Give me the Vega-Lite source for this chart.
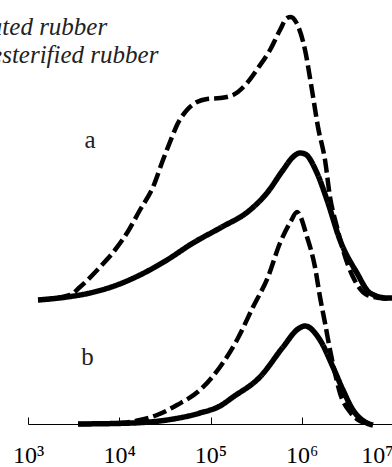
{
  "$schema": "https://vega.github.io/schema/vega-lite/v6.json",
  "autosize": {"type": "none"},
  "padding": {"left": 28, "top": 0, "right": 0, "bottom": 43},
  "width": 365,
  "height": 424,
  "background": "white",
  "config": {"view": {"stroke": null}},
  "datasets": {
    "curves": [
      {"series": "a-untreated", "style": "dashed", "logM": 3.110, "w": 124},
      {"series": "a-untreated", "style": "dashed", "logM": 3.460, "w": 129},
      {"series": "a-untreated", "style": "dashed", "logM": 3.570, "w": 137},
      {"series": "a-untreated", "style": "dashed", "logM": 3.789, "w": 157},
      {"series": "a-untreated", "style": "dashed", "logM": 3.953, "w": 174},
      {"series": "a-untreated", "style": "dashed", "logM": 4.085, "w": 191},
      {"series": "a-untreated", "style": "dashed", "logM": 4.227, "w": 214},
      {"series": "a-untreated", "style": "dashed", "logM": 4.370, "w": 237},
      {"series": "a-untreated", "style": "dashed", "logM": 4.479, "w": 264},
      {"series": "a-untreated", "style": "dashed", "logM": 4.578, "w": 287},
      {"series": "a-untreated", "style": "dashed", "logM": 4.633, "w": 299},
      {"series": "a-untreated", "style": "dashed", "logM": 4.742, "w": 314},
      {"series": "a-untreated", "style": "dashed", "logM": 4.852, "w": 322},
      {"series": "a-untreated", "style": "dashed", "logM": 4.962, "w": 325},
      {"series": "a-untreated", "style": "dashed", "logM": 5.104, "w": 326},
      {"series": "a-untreated", "style": "dashed", "logM": 5.247, "w": 329},
      {"series": "a-untreated", "style": "dashed", "logM": 5.400, "w": 341},
      {"series": "a-untreated", "style": "dashed", "logM": 5.521, "w": 356},
      {"series": "a-untreated", "style": "dashed", "logM": 5.652, "w": 374},
      {"series": "a-untreated", "style": "dashed", "logM": 5.762, "w": 394},
      {"series": "a-untreated", "style": "dashed", "logM": 5.838, "w": 406},
      {"series": "a-untreated", "style": "dashed", "logM": 5.882, "w": 407},
      {"series": "a-untreated", "style": "dashed", "logM": 5.937, "w": 402},
      {"series": "a-untreated", "style": "dashed", "logM": 6.036, "w": 374},
      {"series": "a-untreated", "style": "dashed", "logM": 6.112, "w": 334},
      {"series": "a-untreated", "style": "dashed", "logM": 6.178, "w": 297},
      {"series": "a-untreated", "style": "dashed", "logM": 6.255, "w": 264},
      {"series": "a-untreated", "style": "dashed", "logM": 6.310, "w": 227},
      {"series": "a-untreated", "style": "dashed", "logM": 6.386, "w": 197},
      {"series": "a-untreated", "style": "dashed", "logM": 6.452, "w": 174},
      {"series": "a-untreated", "style": "dashed", "logM": 6.562, "w": 147},
      {"series": "a-untreated", "style": "dashed", "logM": 6.715, "w": 129},
      {"series": "a-untreated", "style": "dashed", "logM": 6.858, "w": 126},
      {"series": "a-untreated", "style": "dashed", "logM": 6.989, "w": 125},

      {"series": "a-treated", "style": "solid", "logM": 3.110, "w": 124},
      {"series": "a-treated", "style": "solid", "logM": 3.427, "w": 127},
      {"series": "a-treated", "style": "solid", "logM": 3.679, "w": 131},
      {"series": "a-treated", "style": "solid", "logM": 3.975, "w": 139},
      {"series": "a-treated", "style": "solid", "logM": 4.227, "w": 149},
      {"series": "a-treated", "style": "solid", "logM": 4.523, "w": 164},
      {"series": "a-treated", "style": "solid", "logM": 4.808, "w": 181},
      {"series": "a-treated", "style": "solid", "logM": 5.104, "w": 196},
      {"series": "a-treated", "style": "solid", "logM": 5.433, "w": 214},
      {"series": "a-treated", "style": "solid", "logM": 5.619, "w": 231},
      {"series": "a-treated", "style": "solid", "logM": 5.795, "w": 254},
      {"series": "a-treated", "style": "solid", "logM": 5.904, "w": 267},
      {"series": "a-treated", "style": "solid", "logM": 5.981, "w": 271},
      {"series": "a-treated", "style": "solid", "logM": 6.036, "w": 270},
      {"series": "a-treated", "style": "solid", "logM": 6.167, "w": 251},
      {"series": "a-treated", "style": "solid", "logM": 6.277, "w": 224},
      {"series": "a-treated", "style": "solid", "logM": 6.419, "w": 184},
      {"series": "a-treated", "style": "solid", "logM": 6.605, "w": 151},
      {"series": "a-treated", "style": "solid", "logM": 6.748, "w": 131},
      {"series": "a-treated", "style": "solid", "logM": 6.934, "w": 126},
      {"series": "a-treated", "style": "solid", "logM": 6.989, "w": 126},

      {"series": "b-untreated", "style": "dashed", "logM": 3.548, "w": 0},
      {"series": "b-untreated", "style": "dashed", "logM": 4.008, "w": 1},
      {"series": "b-untreated", "style": "dashed", "logM": 4.227, "w": 4},
      {"series": "b-untreated", "style": "dashed", "logM": 4.414, "w": 9},
      {"series": "b-untreated", "style": "dashed", "logM": 4.633, "w": 19},
      {"series": "b-untreated", "style": "dashed", "logM": 4.885, "w": 34},
      {"series": "b-untreated", "style": "dashed", "logM": 5.104, "w": 57},
      {"series": "b-untreated", "style": "dashed", "logM": 5.290, "w": 84},
      {"series": "b-untreated", "style": "dashed", "logM": 5.466, "w": 117},
      {"series": "b-untreated", "style": "dashed", "logM": 5.630, "w": 147},
      {"series": "b-untreated", "style": "dashed", "logM": 5.762, "w": 181},
      {"series": "b-untreated", "style": "dashed", "logM": 5.882, "w": 203},
      {"series": "b-untreated", "style": "dashed", "logM": 5.948, "w": 212},
      {"series": "b-untreated", "style": "dashed", "logM": 6.058, "w": 187},
      {"series": "b-untreated", "style": "dashed", "logM": 6.145, "w": 157},
      {"series": "b-untreated", "style": "dashed", "logM": 6.200, "w": 127},
      {"series": "b-untreated", "style": "dashed", "logM": 6.255, "w": 101},
      {"series": "b-untreated", "style": "dashed", "logM": 6.310, "w": 74},
      {"series": "b-untreated", "style": "dashed", "logM": 6.364, "w": 51},
      {"series": "b-untreated", "style": "dashed", "logM": 6.419, "w": 31},
      {"series": "b-untreated", "style": "dashed", "logM": 6.529, "w": 12},
      {"series": "b-untreated", "style": "dashed", "logM": 6.638, "w": 3},
      {"series": "b-untreated", "style": "dashed", "logM": 6.715, "w": 1},
      {"series": "b-untreated", "style": "dashed", "logM": 6.781, "w": -1},

      {"series": "b-treated", "style": "solid", "logM": 3.548, "w": 0},
      {"series": "b-treated", "style": "solid", "logM": 4.151, "w": 1},
      {"series": "b-treated", "style": "solid", "logM": 4.523, "w": 4},
      {"series": "b-treated", "style": "solid", "logM": 4.885, "w": 11},
      {"series": "b-treated", "style": "solid", "logM": 5.104, "w": 18},
      {"series": "b-treated", "style": "solid", "logM": 5.247, "w": 27},
      {"series": "b-treated", "style": "solid", "logM": 5.542, "w": 47},
      {"series": "b-treated", "style": "solid", "logM": 5.795, "w": 77},
      {"series": "b-treated", "style": "solid", "logM": 5.959, "w": 95},
      {"series": "b-treated", "style": "solid", "logM": 6.036, "w": 98},
      {"series": "b-treated", "style": "solid", "logM": 6.200, "w": 84},
      {"series": "b-treated", "style": "solid", "logM": 6.342, "w": 57},
      {"series": "b-treated", "style": "solid", "logM": 6.452, "w": 34},
      {"series": "b-treated", "style": "solid", "logM": 6.562, "w": 14},
      {"series": "b-treated", "style": "solid", "logM": 6.715, "w": 1},
      {"series": "b-treated", "style": "solid", "logM": 6.781, "w": -1}
    ],
    "legendText": [
      {"label": "Untreated rubber", "logM": 3.868, "w": 389},
      {"label": "Transesterified rubber", "logM": 4.429, "w": 361}
    ],
    "letters": [
      {"label": "a", "logM": 3.679, "w": 276},
      {"label": "b", "logM": 3.652, "w": 59}
    ]
  },
  "layer": [
    {
      "data": {"name": "curves"},
      "mark": {"type": "line", "interpolate": "monotone", "color": "black", "strokeCap": "butt", "strokeJoin": "round", "clip": false},
      "encoding": {
        "x": {
          "field": "logM", "type": "quantitative",
          "scale": {"domain": [3, 7], "nice": false, "zero": false},
          "axis": {
            "values": [3, 4, 5, 6, 7],
            "title": null,
            "grid": false,
            "domainColor": "black",
            "domainWidth": 1,
            "tickColor": "black",
            "tickWidth": 1,
            "tickSize": -7,
            "labelColor": "black",
            "labelFont": "'Liberation Serif', 'Times New Roman', serif",
            "labelFontSize": 24,
            "labelPadding": 45,
            "labelBaseline": "alphabetic",
            "labelAlign": {"condition": {"test": "datum.value >= 7", "value": "right"}, "value": "center"},
            "labelFlush": false,
            "labelBound": false,
            "labelOverlap": false,
            "labelExpr": "'10' + ['⁰','¹','²','³','⁴','⁵','⁶','⁷','⁸','⁹'][datum.value]"
          }
        },
        "y": {"field": "w", "type": "quantitative", "scale": {"domain": [0, 424], "nice": false, "zero": false}, "axis": null},
        "detail": {"field": "series"},
        "strokeDash": {"field": "style", "type": "nominal", "scale": {"domain": ["dashed", "solid"], "range": [[14, 5], [1, 0]]}, "legend": null},
        "strokeWidth": {"field": "style", "type": "nominal", "scale": {"domain": ["dashed", "solid"], "range": [4.5, 5.5]}, "legend": null}
      }
    },
    {
      "data": {"name": "legendText"},
      "mark": {"type": "text", "font": "'Liberation Serif', 'Times New Roman', serif", "fontStyle": "italic", "fontSize": 25, "align": "right", "baseline": "alphabetic", "color": "#222"},
      "encoding": {
        "x": {"field": "logM", "type": "quantitative"},
        "y": {"field": "w", "type": "quantitative"},
        "text": {"field": "label"}
      }
    },
    {
      "data": {"name": "letters"},
      "mark": {"type": "text", "font": "'Liberation Serif', 'Times New Roman', serif", "fontSize": 25, "align": "center", "baseline": "alphabetic", "color": "#222"},
      "encoding": {
        "x": {"field": "logM", "type": "quantitative"},
        "y": {"field": "w", "type": "quantitative"},
        "text": {"field": "label"}
      }
    }
  ]
}
